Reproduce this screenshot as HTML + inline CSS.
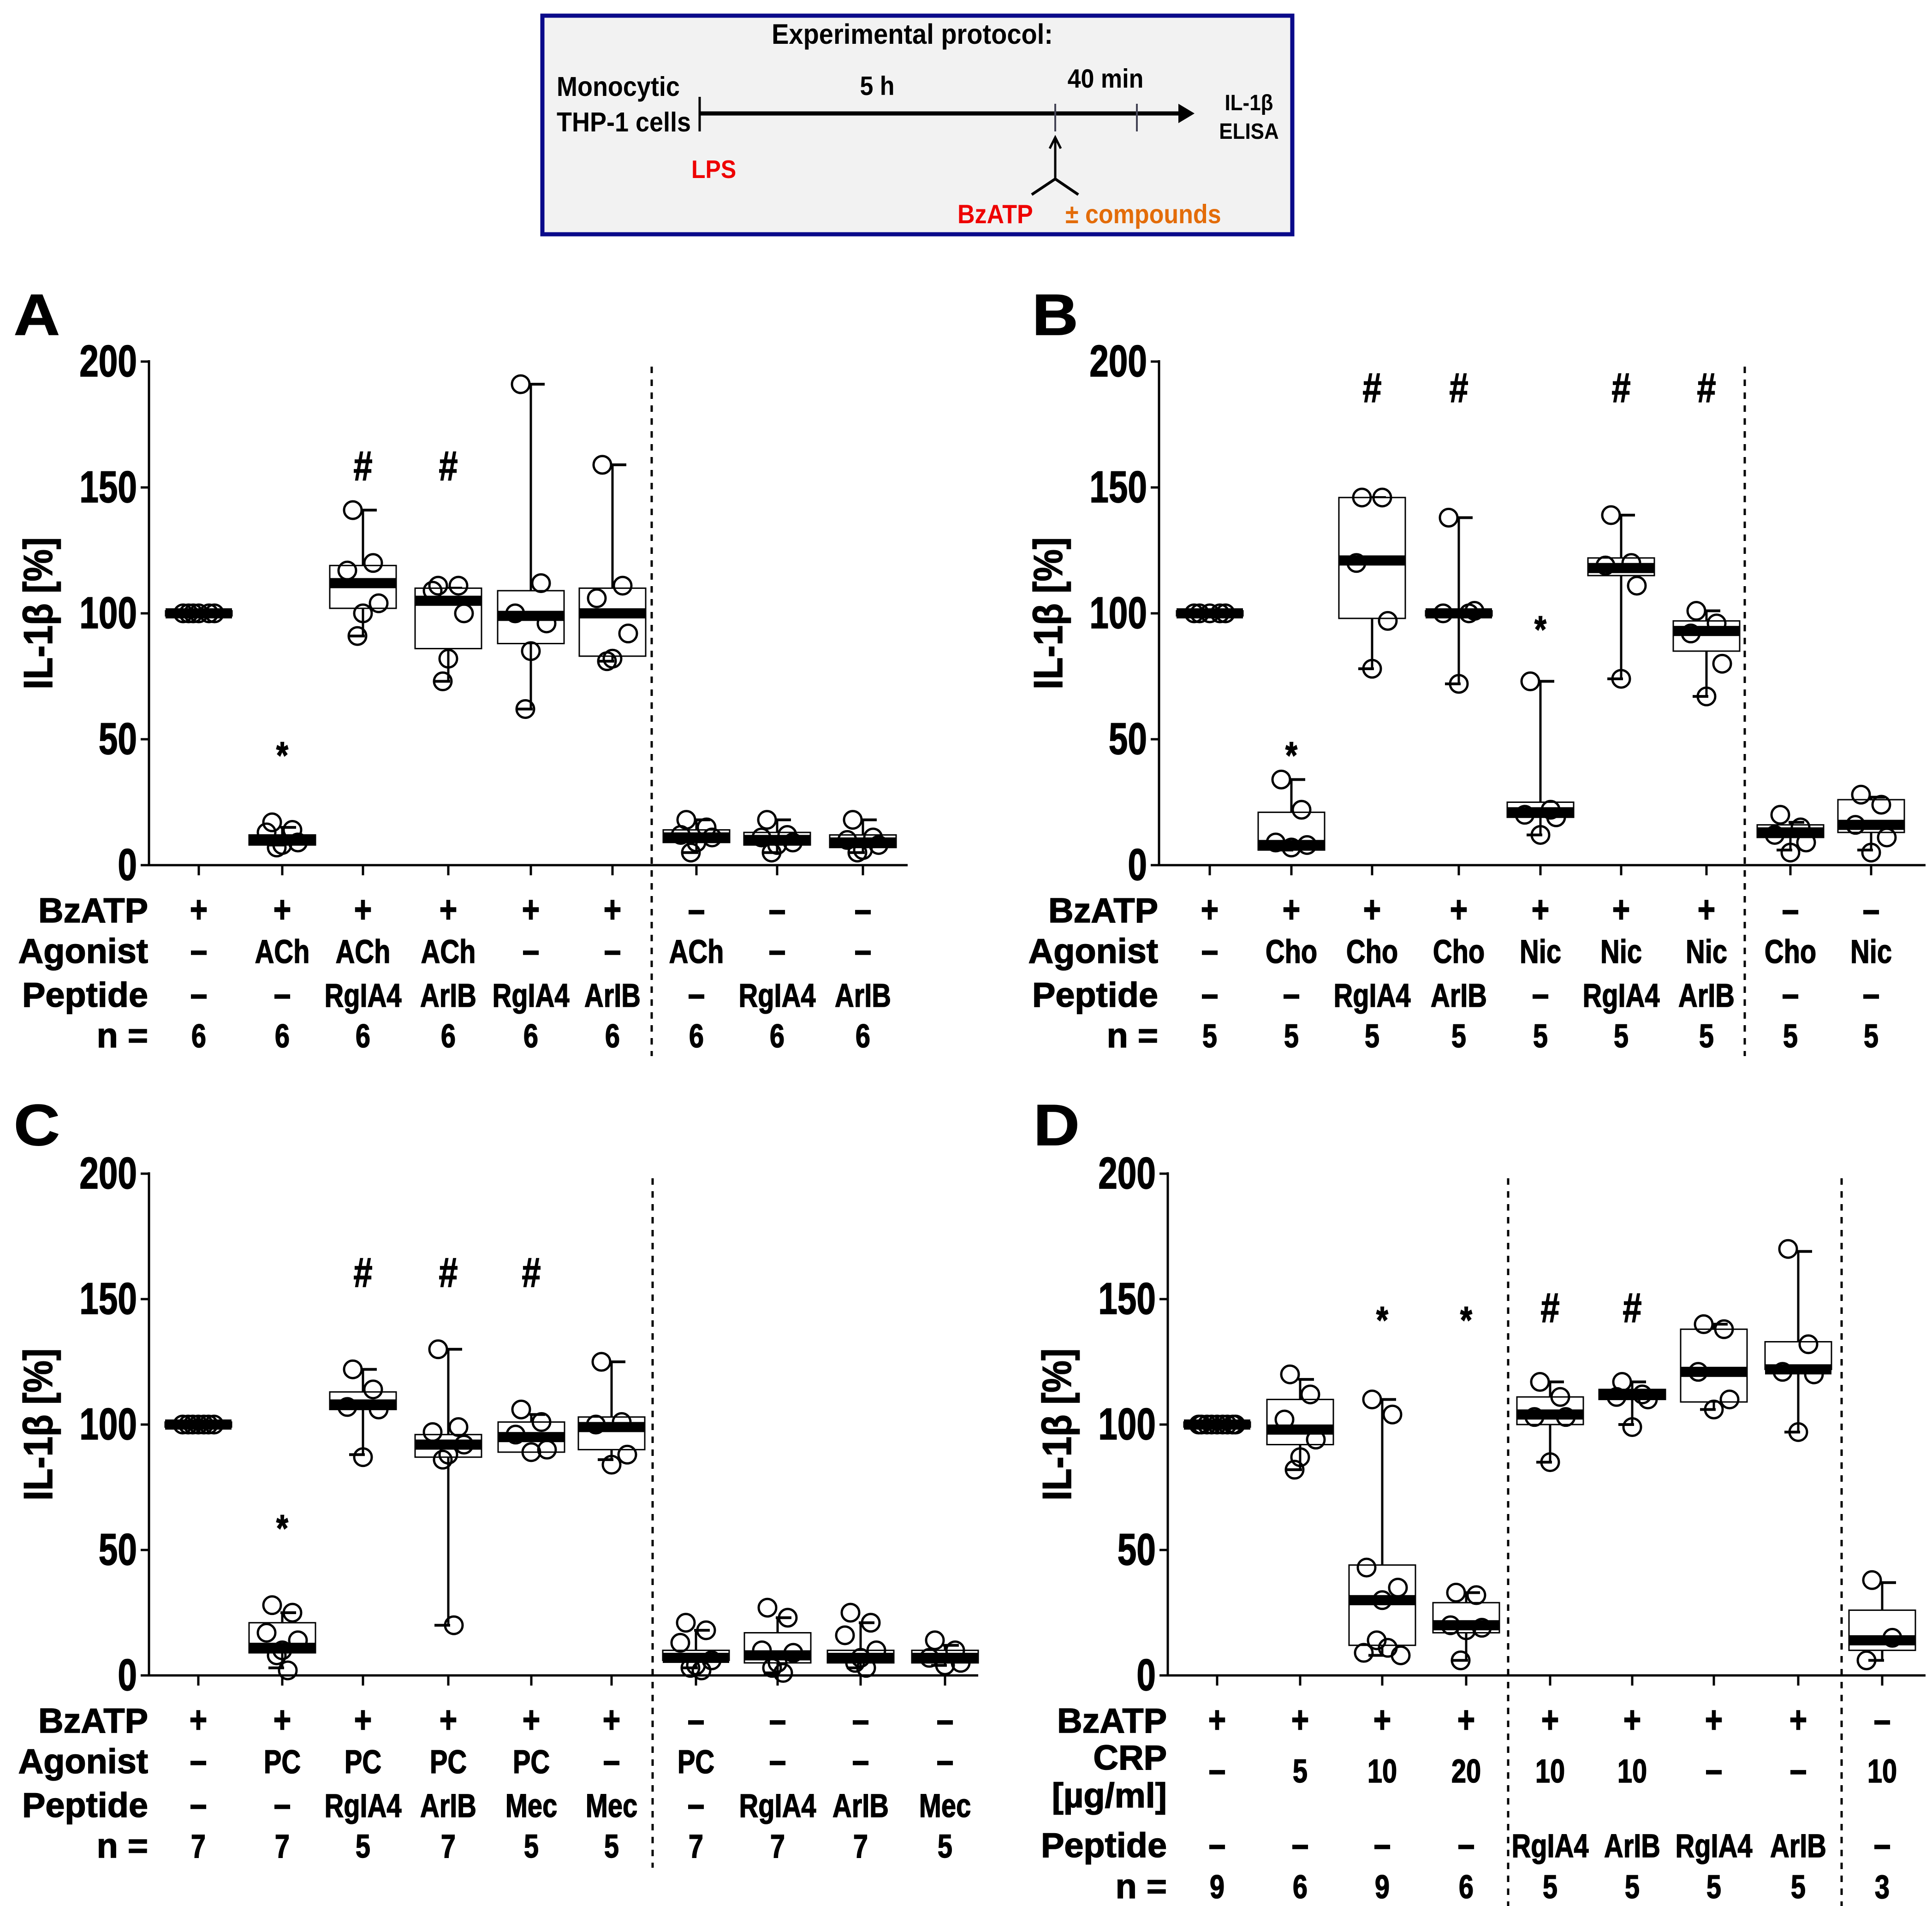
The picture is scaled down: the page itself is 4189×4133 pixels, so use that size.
<!DOCTYPE html>
<html><head><meta charset="utf-8">
<style>
html,body{margin:0;padding:0;background:#fff;}
svg{display:block;}
text{font-family:"Liberation Sans Narrow","Liberation Sans",sans-serif;font-weight:bold;}
</style></head>
<body>
<svg id="fig" xmlns="http://www.w3.org/2000/svg" width="4189" height="4133" viewBox="0 0 4189 4133">
<rect x="0" y="0" width="4189" height="4133" fill="#fff"/>
<g>
<rect x="1176" y="34" width="1626" height="474" fill="#f2f2f2" stroke="#0a0a8a" stroke-width="9"/>
<text transform="translate(1978,95) scale(1,1.1)" font-size="56" text-anchor="middle">Experimental protocol:</text>
<text transform="translate(1207,208) scale(1,1.1)" font-size="54">Monocytic</text>
<text transform="translate(1207,285) scale(1,1.1)" font-size="54">THP-1 cells</text>
<line x1="1517" y1="210" x2="1517" y2="285" stroke="#000" stroke-width="5"/>
<line x1="1517" y1="246" x2="2560" y2="246" stroke="#000" stroke-width="9"/>
<polygon points="2555,225 2590,246 2555,267" fill="#000"/>
<line x1="2288" y1="225" x2="2288" y2="285" stroke="#445" stroke-width="4"/>
<line x1="2465" y1="225" x2="2465" y2="285" stroke="#445" stroke-width="4"/>
<text transform="translate(1902,206) scale(1,1.1)" font-size="52" text-anchor="middle">5 h</text>
<text transform="translate(2397,190) scale(1,1.1)" font-size="52" text-anchor="middle">40 min</text>
<text transform="translate(2708,239) scale(1,1.1)" font-size="44" text-anchor="middle">IL-1β</text>
<text transform="translate(2708,301) scale(1,1.1)" font-size="44" text-anchor="middle">ELISA</text>
<text transform="translate(1499,386) scale(1,1.1)" font-size="50" fill="#ee0000">LPS</text>
<line x1="2288" y1="388" x2="2288" y2="298" stroke="#000" stroke-width="5"/>
<polyline points="2276,322 2288,298 2300,322" fill="none" stroke="#000" stroke-width="5"/>
<polyline points="2237,422 2288,388 2338,422" fill="none" stroke="#000" stroke-width="6"/>
<text transform="translate(2076,484) scale(1,1.1)" font-size="52" fill="#ee0000">BzATP</text>
<text transform="translate(2310,484) scale(1,1.1)" font-size="52" fill="#e36c09">± compounds</text>
</g>
</svg>
<script>
// ---------- data ----------
const yTicks = [0, 50, 100, 150, 200];
// Panel A
const aMed = [100, 10, 112, 105, 99, 100, 11, 10, 9];
const aQ1 = [99, 8, 102, 86, 88, 83, 9, 8, 7];
const aQ3 = [101, 12, 119, 110, 109, 110, 14, 13, 12];
const aWlo = [100, 8, 91, 73, 62, 81, 5, 5, 5];
const aWhi = [100, 15, 141, 110, 191, 159, 18, 18, 18];
const aPts = [[100,100,100,100,100,100],[17,14,13,9,8,7],[141,120,117,104,100,91],[111,111,109,100,82,73],[191,112,100,96,85,62],[159,111,106,92,82,81],[18,15,12,11,9,5],[18,12,11,9,8,5],[18,11,10,8,6,5]];
const aMarks = [["",""],["*",44],["#",158],["#",158],["",""],["",""],["",""],["",""],["",""]];
// Panel B
const bMed = [100, 8, 121, 100, 21, 118, 93, 13, 16];
const bQ1 = [99, 6, 98, 99, 19, 115, 85, 11, 13];
const bQ3 = [101, 21, 146, 101, 25, 122, 97, 16, 26];
const bWlo = [100, 6, 78, 72, 12, 74, 67, 6, 6];
const bWhi = [100, 34, 146, 138, 73, 139, 101, 17, 27];
const bPts = [[100,100,100,100,100],[34,22,9,8,7],[146,146,120,97,78],[138,100,100,101,72],[73,22,20,19,12],[139,120,119,111,74],[101,96,92,80,67],[20,15,12,9,5],[28,24,16,11,5]];
const bMarks = [["",""],["*",44],["#",189],["#",189],["*",94],["#",189],["#",189],["",""],["",""]];
// Panel C
const cMed = [100, 11, 108, 92, 95, 99, 7, 8, 7, 7];
const cQ1 = [99, 9, 106, 87, 89, 90, 6, 5, 5, 5];
const cQ3 = [101, 21, 113, 96, 101, 103, 10, 17, 10, 10];
const cWlo = [100, 3, 88, 20, 91, 86, 3, 1, 3, 4];
const cWhi = [100, 25, 122, 130, 104, 125, 18, 23, 21, 12];
const cPts = [[100,100,100,100,100,100,100],[28,25,17,14,10,8,2],[122,114,107,106,87],[130,99,97,92,88,86,20],[106,101,96,90,89],[125,101,100,88,84],[21,18,13,6,4,3,2],[27,23,10,9,5,3,1],[25,21,16,10,7,5,3],[14,10,7,5,4]];
const cMarks = [["",""],["*",59],["#",160],["#",160],["#",160],["",""],["",""],["",""],["",""],["",""]];
// Panel D
const dMed = [100, 98, 30, 20, 104, 112, 121, 122, 14];
const dQ1 = [99, 92, 12, 17, 100, 110, 109, 122, 10];
const dQ3 = [101, 110, 44, 29, 111, 114, 138, 133, 26];
const dWlo = [100, 82, 8, 6, 85, 100, 106, 97, 6];
const dWhi = [100, 118, 110, 33, 117, 117, 140, 169, 37];
const dPts = [[100,100,100,100,100,100,100,100,100],[120,112,102,94,87,82],[110,104,43,35,30,14,11,9,8],[33,32,20,19,18,6],[117,111,103,103,85],[117,112,111,110,99],[140,138,121,110,106],[170,132,121,120,97],[38,15,6]];
const dMarks = [["",""],["",""],["*",142],["*",142],["#",146],["#",146],["",""],["",""],["",""]];

// row labels
const aRows = [["BzATP",["+","+","+","+","+","+","–","–","–"]],["Agonist",["–","ACh","ACh","ACh","–","–","ACh","–","–"]],["Peptide",["–","–","RgIA4","ArIB","RgIA4","ArIB","–","RgIA4","ArIB"]],["n =",["6","6","6","6","6","6","6","6","6"]]];
const bRows = [["BzATP",["+","+","+","+","+","+","+","–","–"]],["Agonist",["–","Cho","Cho","Cho","Nic","Nic","Nic","Cho","Nic"]],["Peptide",["–","–","RgIA4","ArIB","–","RgIA4","ArIB","–","–"]],["n =",["5","5","5","5","5","5","5","5","5"]]];
const cRows = [["BzATP",["+","+","+","+","+","+","–","–","–","–"]],["Agonist",["–","PC","PC","PC","PC","–","PC","–","–","–"]],["Peptide",["–","–","RgIA4","ArIB","Mec","Mec","–","RgIA4","ArIB","Mec"]],["n =",["7","7","5","7","5","5","7","7","7","5"]]];
const dRows = [["BzATP",["+","+","+","+","+","+","+","+","–"]],["CRP|[µg/ml]",["–","5","10","20","10","10","–","–","10"]],["Peptide",["–","–","–","–","RgIA4","ArIB","RgIA4","ArIB","–"]],["n =",["9","6","9","6","5","5","5","5","3"]]];

// ---------- layout ----------
const panels = [
 {id:"a",letter:"A",lx:30,ly:726,ax:323,y0:1876,y200:784,xEnd:1968,cx:[431,612,787,972,1151,1328,1510,1685,1871],dash:[1413],dashTop:795,dashBot:2290,rowY:[2000,2088,2183,2271],med:aMed,q1:aQ1,q3:aQ3,wlo:aWlo,whi:aWhi,pts:aPts,marks:aMarks,rows:aRows},
 {id:"b",letter:"B",lx:2238,ly:726,ax:2513,y0:1876,y200:784,xEnd:4175,cx:[2623,2800,2975,3163,3340,3515,3700,3882,4057],dash:[3783],dashTop:795,dashBot:2290,rowY:[2000,2088,2183,2271],med:bMed,q1:bQ1,q3:bQ3,wlo:bWlo,whi:bWhi,pts:bPts,marks:bMarks,rows:bRows},
 {id:"c",letter:"C",lx:30,ly:2483,ax:323,y0:3633,y200:2545,xEnd:2121,cx:[430,612,787,972,1152,1326,1509,1686,1866,2049],dash:[1415],dashTop:2555,dashBot:4050,rowY:[3757,3845,3940,4028],med:cMed,q1:cQ1,q3:cQ3,wlo:cWlo,whi:cWhi,pts:cPts,marks:cMarks,rows:cRows},
 {id:"d",letter:"D",lx:2241,ly:2483,ax:2532,y0:3633,y200:2545,xEnd:4175,cx:[2639,2819,2997,3179,3361,3539,3716,3899,4081],dash:[3270,3993],dashTop:2555,dashBot:4140,rowY:[3757,3865,4027,4116],med:dMed,q1:dQ1,q3:dQ3,wlo:dWlo,whi:dWhi,pts:dPts,marks:dMarks,rows:dRows}
];
const jit = [-22, 22, -34, 34, 0, -12, 12, -40, 40];
const NS = "http://www.w3.org/2000/svg";
const svg = document.getElementById("fig");
function mk(tag, attrs, parent){
  const e = document.createElementNS(NS, tag);
  for (const k in attrs) e.setAttribute(k, attrs[k]);
  (parent||svg).appendChild(e);
  return e;
}
function txt(x, y, size, anchor, str, parent, sx, sy){
  const e = mk("text", {x:0, y:0, "font-size":size, "text-anchor":anchor, stroke:"#000", "stroke-width":1.5, transform:`translate(${x},${y}) scale(${sx||0.8},${sy||1.05})`}, parent);
  e.textContent = str;
  return e;
}
panels.forEach(p => {
  const g = mk("g", {});
  
  
  const Y = v => p.y0 - (v / 200) * (p.y0 - p.y200);
  const lt = txt(p.lx, p.ly, 120, "start", p.letter, g, 1.15, 1.05);
  
  
  const ya = mk("line", {x1:p.ax, y1:Y(200)-3, x2:p.ax, y2:p.y0, stroke:"#000","stroke-width":5}, g);
  
  
  const xa = mk("line", {x1:p.ax, y1:p.y0, x2:p.xEnd, y2:p.y0, stroke:"#000","stroke-width":5}, g);
  
  
  yTicks.forEach(t => {
    mk("line", {x1:p.ax-18, y1:Y(t), x2:p.ax, y2:Y(t), stroke:"#000","stroke-width":5}, g);
    const tl = txt(p.ax-26, Y(t)+32, 88, "end", String(t), g, 0.85, 1.1);
    
    
  });
  const yt = mk("text", {x:0, y:0, "font-size":84, "text-anchor":"middle", stroke:"#000", "stroke-width":1.5, transform:`translate(${p.ax-210},${(p.y0+p.y200)/2}) rotate(-90) scale(0.93,1.05)`}, g);
  yt.textContent = "IL-1β [%]";
  
  
  p.dash.forEach(dx => {
    const dl = mk("line", {x1:dx, y1:p.dashTop, x2:dx, y2:p.dashBot, stroke:"#000","stroke-width":5,"stroke-dasharray":"14 14"}, g);
    
    
  });
  p.cx.forEach((x, i) => {
    mk("line", {x1:x, y1:p.y0, x2:x, y2:p.y0+22, stroke:"#000","stroke-width":5}, g);
    const bg = mk("g", {}, g);
    
    
    mk("line", {x1:x, y1:Y(p.whi[i]), x2:x, y2:Y(p.wlo[i]), stroke:"#000","stroke-width":5}, bg);
    mk("line", {x1:x-4, y1:Y(p.whi[i]), x2:x+30, y2:Y(p.whi[i]), stroke:"#000","stroke-width":6}, bg);
    mk("line", {x1:x-30, y1:Y(p.wlo[i]), x2:x+4, y2:Y(p.wlo[i]), stroke:"#000","stroke-width":6}, bg);
    mk("rect", {x:x-72, y:Y(p.q3[i]), width:144, height:Math.max(2, Y(p.q1[i])-Y(p.q3[i])), fill:"#fff", stroke:"#000","stroke-width":3}, bg);
    mk("rect", {x:x-72, y:Y(p.med[i])-11, width:144, height:22, fill:"#000"}, bg);
    p.pts[i].forEach((v, j) => {
      const c = mk("circle", {cx:x + jit[j % jit.length], cy:Y(v), r:19, fill:"none", stroke:"#000","stroke-width":5}, bg);
      
      
    });
    const m = p.marks[i];
    if (m[0]) {
      const mt = txt(x, Y(m[1]) + (m[0]==="*"?30:28), m[0]==="*"?74:82, "middle", m[0], g, 0.9, 1.1);
      
      
    }
  });
  p.rows.forEach((r, ri) => {
    const yb = p.rowY[ri];
    const parts = r[0].split("|");
    if (parts.length === 2) {
      const t1 = txt(p.ax-2, yb-28, 72, "end", parts[0], g, 1.05);
      
      
      const t2 = txt(p.ax-2, yb+54, 72, "end", parts[1], g, 1.05);
      
      
    } else {
      const t = txt(p.ax-2, yb, 72, "end", r[0], g, 1.05);
      
      
    }
    r[1].forEach((v, i) => {
      const sym = (v==="+"||v==="–");
      const t = txt(p.cx[i], yb, sym?78:68, "middle", v, g, 0.85);
      
      
    });
  });
});
</script>
</body></html>
